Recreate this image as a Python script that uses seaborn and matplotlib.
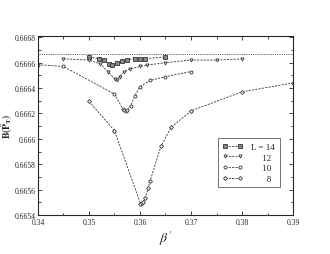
import numpy as np
import pandas as pd
import matplotlib
matplotlib.use("Agg")
import matplotlib.pyplot as plt
from matplotlib.ticker import MultipleLocator
import seaborn as sns

# datos
beta_14 = [0.350, 0.352, 0.353, 0.354, 0.3545, 0.3555, 0.3565, 0.3575, 0.359, 0.360, 0.361, 0.365]
b_14 = [0.666645, 0.666631, 0.666618, 0.666592, 0.666578, 0.666597, 0.666613, 0.666624,
        0.666631, 0.666631, 0.666631, 0.666645]

beta_12 = [0.345, 0.350, 0.3522, 0.3537, 0.3551, 0.3555, 0.356, 0.3569, 0.358, 0.360,
           0.3613, 0.365, 0.370, 0.375, 0.380]
b_12 = [0.66663, 0.66662, 0.66659, 0.66653, 0.66647, 0.66646, 0.66649, 0.66653, 0.66655,
        0.66657, 0.66658, 0.66660, 0.66662, 0.66662, 0.66663]

beta_10 = [0.340, 0.345, 0.355, 0.3566, 0.3569, 0.3573, 0.3575, 0.3582, 0.359, 0.360,
           0.362, 0.365, 0.370]
b_10 = [0.666584, 0.66657, 0.666352, 0.666238, 0.666226, 0.666216, 0.666226, 0.66626,
        0.66634, 0.66641, 0.66646, 0.66649, 0.66653]

beta_8 = [0.350, 0.355, 0.3601, 0.3604, 0.3606, 0.361, 0.3616, 0.362, 0.3641, 0.3661,
          0.370, 0.380, 0.390]
b_8 = [0.666296, 0.666064, 0.66549, 0.665495, 0.6655, 0.66553, 0.66561, 0.66567, 0.66594,
       0.66609, 0.66622, 0.66637, 0.66644]

etiquetas = ["L = 14", "     12", "     10", "       8"]
marcadores = ["s", "v", "o", "D"]

sns.set_style("ticks")
plt.rcParams['font.family'] = ['Liberation Serif', 'DejaVu Serif']
plt.rcParams['mathtext.fontset'] = 'stix'

fig, ax = plt.subplots(figsize=(3.3, 2.55), dpi=100)
fig.subplots_adjust(left=0.115, right=0.888, top=0.855, bottom=0.153)

series = [(beta_14, b_14), (beta_12, b_12), (beta_10, b_10), (beta_8, b_8)]
for (bx, by), lab, m in zip(series, etiquetas, marcadores):
    fc = '#888888' if m == 's' else 'white'
    sns.lineplot(x=bx, y=by, ax=ax, sort=False, estimator=None, label=lab,
                 color='#333333', linestyle=(0, (2.5, 1.5)), linewidth=0.6,
                 marker=m, markersize=2.2 if m != 'D' else 2.0,
                 markerfacecolor=fc, markeredgecolor='#333333', markeredgewidth=0.6)

# linea punteada en 2/3
ax.axhline(2.0 / 3.0, color='#333333', linestyle=(0, (1, 1.2)), linewidth=0.6)

ax.set_xlim(0.34, 0.39)
ax.set_ylim(0.6654, 0.66681)
ax.xaxis.set_major_locator(MultipleLocator(0.01))
ax.xaxis.set_minor_locator(MultipleLocator(0.005))
ax.yaxis.set_major_locator(MultipleLocator(0.0002))
ax.yaxis.set_minor_locator(MultipleLocator(0.0001))
ax.set_xticklabels([f"{v:.2f}" for v in ax.get_xticks()])
ax.set_yticklabels([f"{v:.4f}".rstrip('0') for v in ax.get_yticks()])
ax.tick_params(which='both', direction='in', top=True, right=True, labelsize=5.5,
               width=0.6, pad=1.5)
ax.tick_params(axis='x', which='major', pad=2.5)
ax.tick_params(which='major', length=3)
ax.tick_params(which='minor', length=1.8)
for s in ax.spines.values():
    s.set_linewidth(0.8)

ax.set_xlabel(r"$\beta'$", fontsize=10, labelpad=1)
ax.set_ylabel(r"$\mathbf{B(\hat{P}_T)}$", fontsize=7)
ax.yaxis.set_label_coords(-0.092, 0.5)

leg = ax.legend(loc='lower right', bbox_to_anchor=(0.965, 0.13), fontsize=6.5,
                frameon=True, fancybox=False, edgecolor='#333333', handlelength=2.2,
                numpoints=2, borderpad=0.5, labelspacing=0.25, handletextpad=1.0)
leg.get_frame().set_linewidth(0.6)

fig.savefig("out.png", dpi=100)
